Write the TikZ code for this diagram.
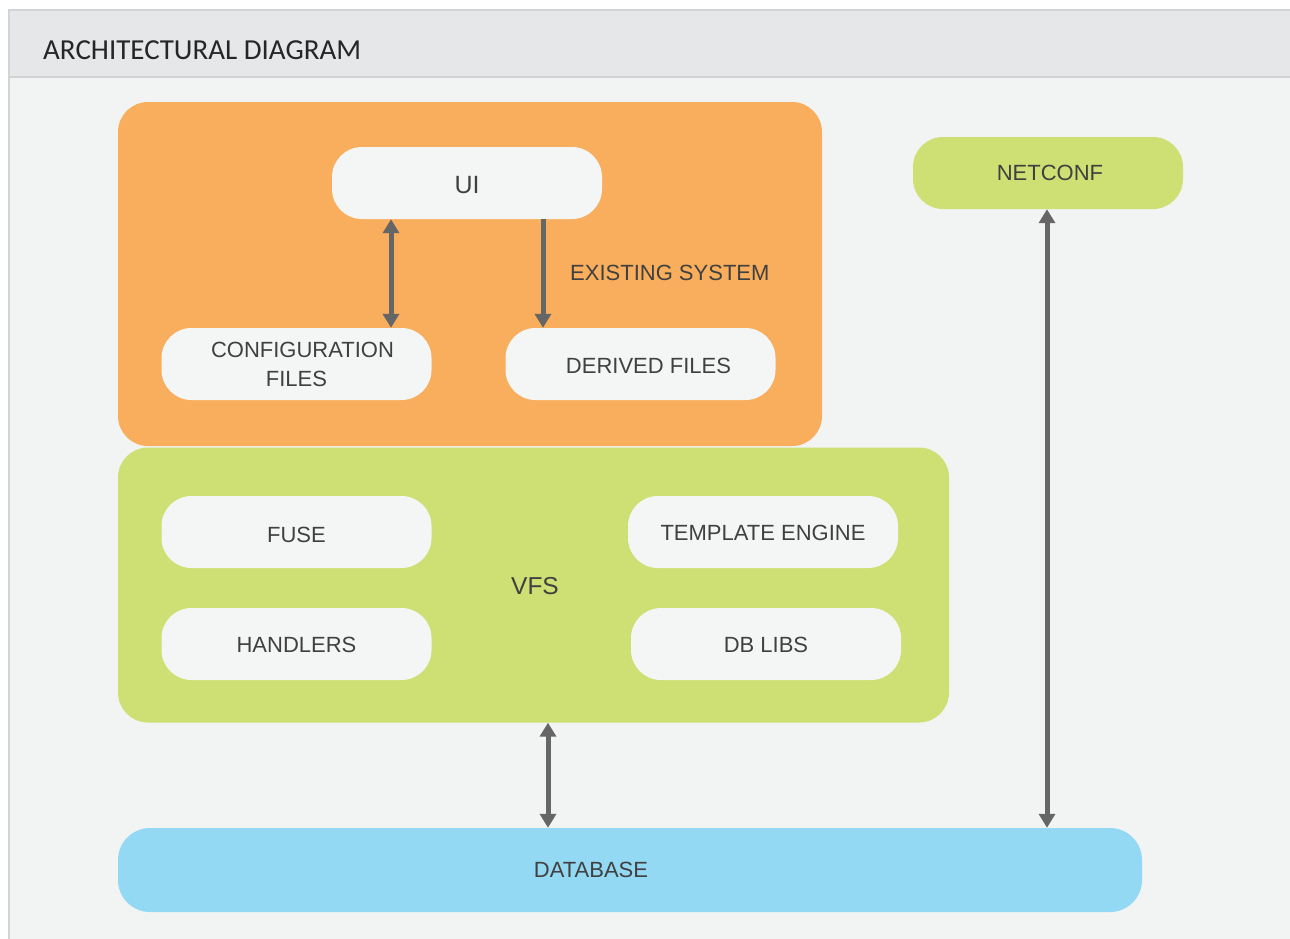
\documentclass[tikz,border=0pt]{standalone}
\usepackage{fontspec}
\setmainfont{Liberation Sans}
\newfontfamily\titlefont{Carlito}
\usetikzlibrary{arrows.meta}
\definecolor{bodybg}{HTML}{F2F4F4}
\definecolor{headbg}{HTML}{E6E7E9}
\definecolor{framecol}{HTML}{D2D3D5}
\definecolor{orangebox}{HTML}{F8AE5C}
\definecolor{greenbox}{HTML}{CEDF73}
\definecolor{bluebox}{HTML}{93D9F3}
\definecolor{pillcol}{HTML}{F4F6F5}
\definecolor{txt}{HTML}{404040}
\definecolor{arrowcol}{HTML}{666666}
\newcommand{\lowr}[2]{\raisebox{-#1}[\height][\depth]{#2}}
\tikzset{
  pill/.style={rectangle, rounded corners=30pt, fill=pillcol, draw=none,
    minimum width=270pt, minimum height=72pt, inner sep=0pt,
    text=txt, font=\fontsize{22}{29}\selectfont, align=center},
  bigbox/.style={rectangle, rounded corners=30pt, draw=none, inner sep=0pt},
  lbl/.style={text=txt, inner sep=0pt},
  conn/.style={draw=arrowcol, line width=5pt},
  tip/.style={-{Triangle[width=16pt,length=14pt]}},
  tips/.style={{Triangle[width=16pt,length=14pt]}-{Triangle[width=16pt,length=14pt]}}
}
\begin{document}
\begin{tikzpicture}[x=1pt,y=-1pt]
\useasboundingbox (0,0) rectangle (1290,938);
% frame
\fill[white] (0,0) rectangle (1290,938);
\fill[bodybg] (9,11) rectangle (1292,940);
\fill[headbg] (9,11) rectangle (1292,77);
\draw[framecol, line width=2pt] (1292,10) -- (9,10) -- (9,940);
\draw[framecol, line width=2pt] (9,77) -- (1292,77);
\node[anchor=west, inner sep=0pt, text=black!85, font=\titlefont\fontsize{29}{33}\selectfont] (title) at (43,50) {ARCHITECTURAL DIAGRAM};
% big boxes
\node[bigbox, fill=orangebox, minimum width=704pt, minimum height=344pt] (existing) at (470,274) {};
\node[bigbox, fill=greenbox, minimum width=831pt, minimum height=275pt] (vfs) at (533.5,585) {};
\node[bigbox, fill=bluebox, rounded corners=32pt, minimum width=1024pt, minimum height=84pt] (db) at (630,870) {};
% pills
\node[pill, font=\fontsize{25}{29}\selectfont] (ui) at (467,183) {\lowr{2pt}{UI}};
\node[pill] (config) at (296.5,364) {\lowr{2pt}{\begin{tabular}{@{}c@{}}\hspace*{12pt}CONFIGURATION\\FILES\end{tabular}}};
\node[pill] (derived) at (640.5,364) {\lowr{2pt}{\hspace*{16pt}DERIVED FILES}};
\node[pill, fill=greenbox] (netconf) at (1048,173) {\hspace*{4pt}NETCONF};
\node[pill] (fuse) at (296.5,532) {\lowr{3pt}{FUSE}};
\node[pill] (template) at (763,532) {\lowr{1pt}{TEMPLATE ENGINE}};
\node[pill] (handlers) at (296.5,644) {\lowr{1pt}{HANDLERS}};
\node[pill] (dblibs) at (766,644) {\lowr{1pt}{DB LIBS}};
% labels
\node[lbl, anchor=west, font=\fontsize{22}{25}\selectfont] (exlabel) at (570,273) {EXISTING SYSTEM};
\node[lbl, font=\fontsize{24.5}{28}\selectfont] (vfslabel) at (535,586) {VFS};
\node[lbl, font=\fontsize{22}{25}\selectfont] (dblabel) at (591,870) {DATABASE};
% connectors
\draw[conn, tips] (ui.south -| 391,0) -- (config.north -| 391,0);
\draw[conn, tip] (ui.south -| 543,0) -- (derived.north -| 543,0);
\draw[conn, tips] (vfs.south -| 548,0) -- (db.north -| 548,0);
\draw[conn, tips] (netconf.south -| 1047,0) -- (db.north -| 1047,0);
\end{tikzpicture}
\end{document}
